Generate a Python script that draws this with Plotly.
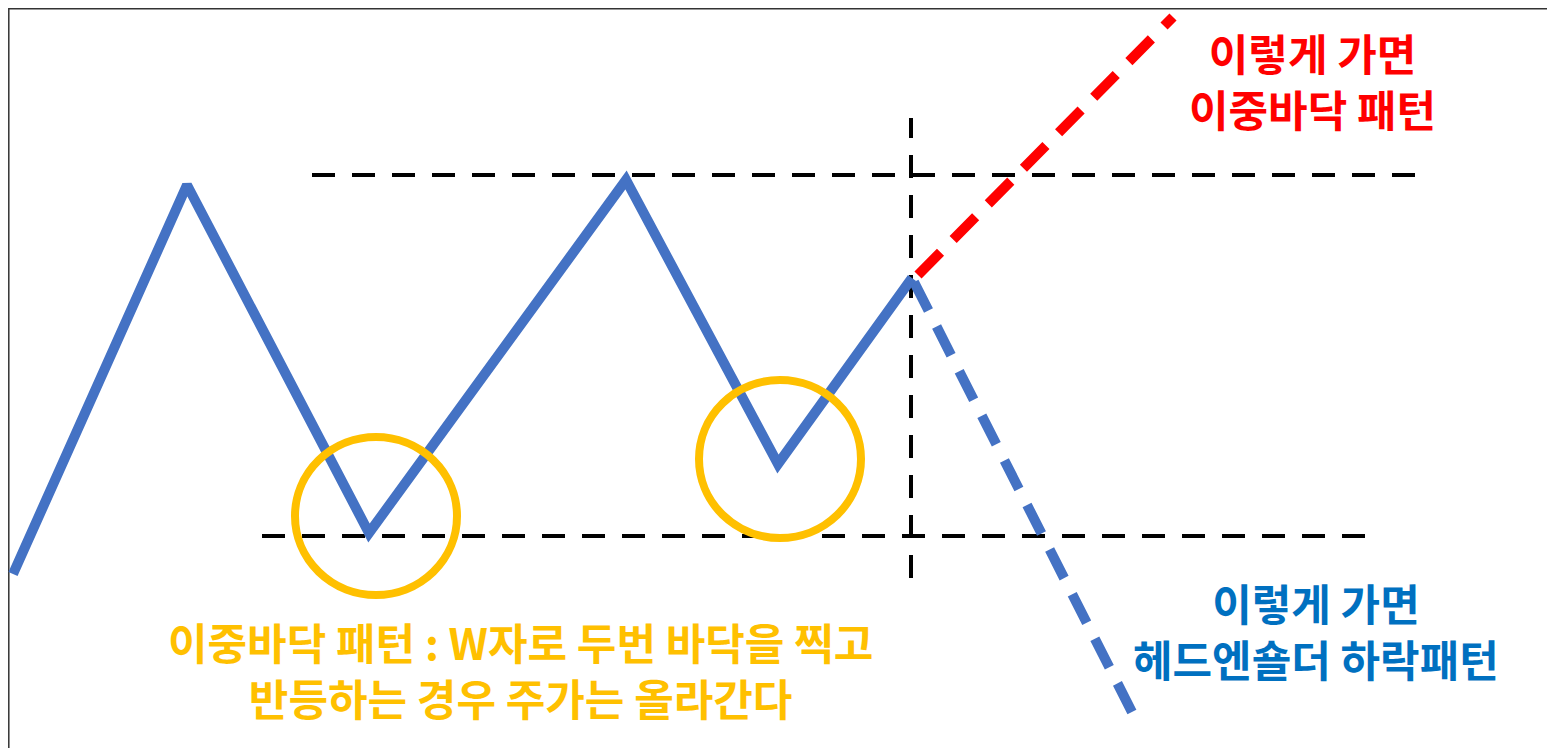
import plotly.graph_objects as go

# price path (x = time step, y = price)
days = [13, 187, 369, 626, 778, 912]
price = [174, 563, 215, 568, 284, 470]

# two possible continuations after the last point
bull_days = [918, 1173]
bull_price = [473, 731]
bear_days = [914, 1135]
bear_price = [466, 30]

# reference levels
resistance = 573
resistance_span = [312, 1418]
support = 212
support_span = [262, 1368]
decision_day = 911
decision_span = [170, 630]

# the two bottoms that get circled
bottoms_x = [376, 780]
bottoms_y = [232, 289]
circle_rx = 81
circle_ry = 79

BLUE = "#4472C4"
RED = "#FF0000"
ORANGE = "#FFC000"
TEXT_BLUE = "#0070C0"
FONT = "Noto Sans CJK KR"

fig = go.Figure()

# dashed guide lines
fig.add_trace(go.Scatter(x=resistance_span, y=[resistance] * 2, mode="lines",
                         line=dict(color="black", width=4, dash="23px,17px")))
fig.add_trace(go.Scatter(x=support_span, y=[support] * 2, mode="lines",
                         line=dict(color="black", width=4, dash="23px,17px")))
fig.add_trace(go.Scatter(x=[decision_day] * 2, y=decision_span, mode="lines",
                         line=dict(color="black", width=4, dash="23px,17px")))

# scenarios
fig.add_trace(go.Scatter(x=bull_days, y=bull_price, mode="lines",
                         line=dict(color=RED, width=10, dash="32px,18px")))
fig.add_trace(go.Scatter(x=bear_days, y=bear_price, mode="lines",
                         line=dict(color=BLUE, width=10, dash="32px,18px")))

# main price line
fig.add_trace(go.Scatter(x=days, y=price, mode="lines",
                         line=dict(color=BLUE, width=10)))

shapes = []
for cx, cy in zip(bottoms_x, bottoms_y):
    shapes.append(dict(type="circle", xref="x", yref="y",
                       x0=cx - circle_rx, x1=cx + circle_rx,
                       y0=cy - circle_ry, y1=cy + circle_ry,
                       line=dict(color=ORANGE, width=8)))
# frame of the original slide
shapes.append(dict(type="rect", xref="x", yref="y", x0=8.8, x1=1600, y0=-50, y1=739.2,
                   line=dict(color="#333333", width=1.5), layer="below"))


def label(text, x, y, color, size):
    return dict(x=x, y=y, xref="x", yref="y", text=text, showarrow=False,
                font=dict(family=FONT, size=size, color=color, weight="bold"))


annotations = [
    label("이렇게 가면<br>이중바닥 패턴", 1312, 668, RED, 43),
    label("이렇게 가면<br>헤드엔숄더 하락패턴", 1316, 118, TEXT_BLUE, 43),
    label("이중바닥 패턴 : W자로 두번 바닥을 찍고<br>반등하는 경우 주가는 올라간다", 520, 79, ORANGE, 43),
]

fig.update_layout(
    width=1547, height=748,
    margin=dict(l=0, r=0, t=0, b=0),
    plot_bgcolor="white", paper_bgcolor="white",
    showlegend=False,
    shapes=shapes,
    annotations=annotations,
    xaxis=dict(range=[0, 1547], visible=False, fixedrange=True),
    yaxis=dict(range=[0, 748], visible=False, fixedrange=True),
)

# drop the default body margin so the figure fills the window exactly
fig.write_html("out.html", config={"displayModeBar": False},
               post_script="document.body.style.margin='0';document.body.style.overflow='hidden';")
